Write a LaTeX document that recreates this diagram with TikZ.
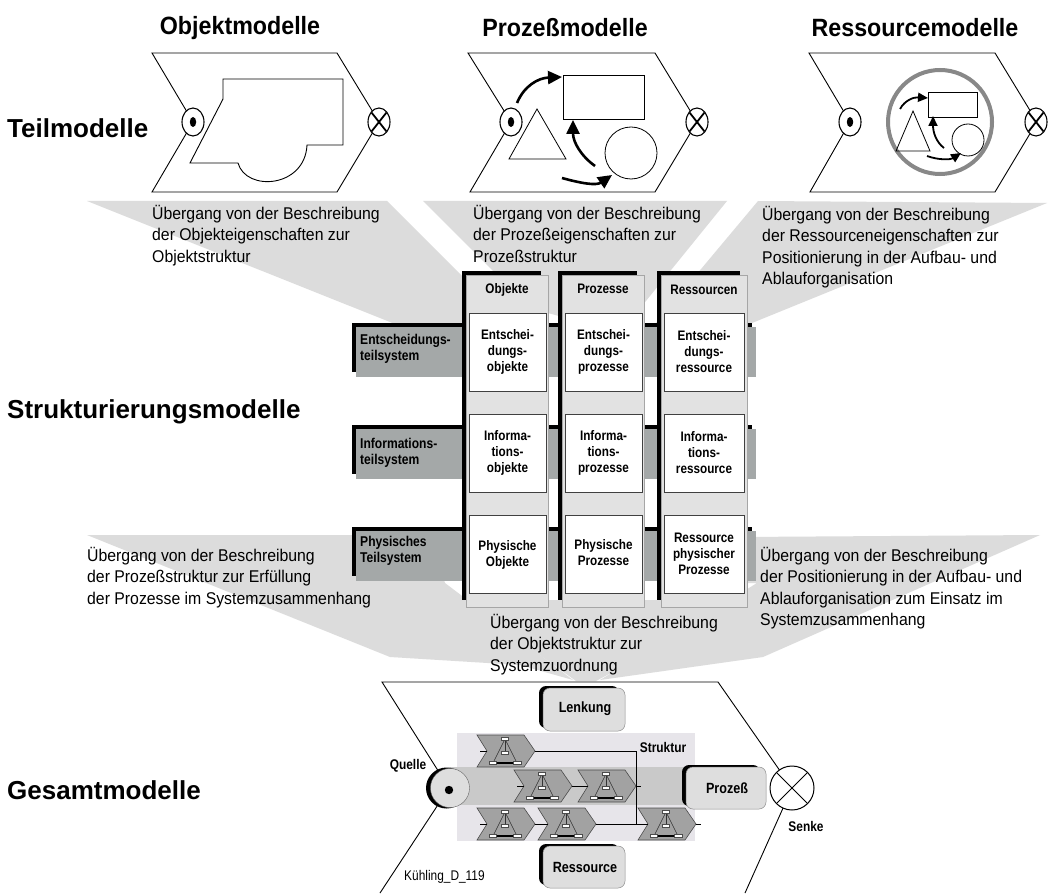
\documentclass[tikz,border=0pt]{standalone}
\usepackage{fontspec}
\setmainfont{Liberation Sans}
\newfontfamily\narrowsf[FakeStretch=0.85]{Liberation Sans}
\newfontfamily\titlesf[FakeStretch=0.93]{Liberation Sans}
\usetikzlibrary{arrows.meta,shapes.geometric}

\definecolor{funnelgray}{HTML}{DCDCDC}
\definecolor{colgray}{HTML}{E2E2E2}
\definecolor{bargray}{HTML}{A4A8A8}
\definecolor{boxgray}{HTML}{DEDEDE}
\definecolor{strukbg}{HTML}{E7E5EA}
\definecolor{bandgray}{HTML}{C9C9C9}
\definecolor{chevgray}{HTML}{A2A2A2}
\definecolor{ringgray}{HTML}{888888}

\tikzset{
  funnel/.style={fill=funnelgray, draw=none},
  outline/.style={draw=black, line width=0.9},
  title/.style={font=\titlesf\fontsize{25}{28}\selectfont\bfseries, inner sep=0},
  level/.style={font=\fontsize{26}{30}\selectfont\bfseries, anchor=west, inner sep=0},
  note/.style={font=\titlesf\fontsize{17}{21.5}\selectfont, align=left, anchor=north west, inner sep=0},
  cell/.style={draw=black!75, line width=0.6, fill=white},
  celltext/.style={font=\narrowsf\fontsize{13.8}{16}\selectfont\bfseries, align=center, inner sep=0},
  rowtext/.style={font=\narrowsf\fontsize{14.2}{16.5}\selectfont\bfseries, align=left, anchor=west, inner sep=0},
  boxtext/.style={font=\narrowsf\fontsize{14.8}{17}\selectfont\bfseries, inner sep=0},
  smalltext/.style={font=\narrowsf\fontsize{14}{16}\selectfont\bfseries, inner sep=0},
  flow/.style={line width=2.6, -{Triangle[length=14pt,width=13pt]}},
  flowsmall/.style={line width=1.8, -{Triangle[length=10pt,width=9pt]}},
  wire/.style={draw=black, line width=0.7},
  portmark/.style={draw=black, line width=1.1, fill=white, ellipse, inner sep=0,
    minimum width=22pt, minimum height=28pt},
}

% source and sink marks of a part model
\newcommand\srcmark[3]{%
  \node[portmark] (#1) at (#2,#3) {};
  \fill[black] (#2,#3) ellipse [x radius=3.2, y radius=5];}
\newcommand\sinkmark[3]{%
  \node[portmark] (#1) at (#2,#3) {};
  \draw[line width=1.8] (#2-7.5,#3-9.5) -- (#2+7.5,#3+9.5) (#2-7.5,#3+9.5) -- (#2+7.5,#3-9.5);}

% small process element of the overall model
\newcommand\procchev[3]{%
  \begin{scope}[shift={(#2,#3)}]
    \filldraw[fill=chevgray, draw=black!70, line width=0.6]
      (0,0) -- (47,0) -- (58,16) -- (47,32) -- (0,32) -- (10,16) -- cycle;
    \coordinate (#1-in) at (10,16);
    \coordinate (#1-out) at (58,16);
    \draw[line width=0.5] (3,16) -- (10,16);
    \draw[line width=0.5] (58,16) -- (63,16);
    \draw[line width=0.5, black!80] (28,4) -- (16,28) -- (40,28) -- cycle;
    \draw[line width=0.5, black!80] (28,4) -- (28,17);
    \draw[line width=1.1] (16,28) -- (40,28);
    \filldraw[fill=white, draw=black!70, line width=0.3] (24.5,2.5) rectangle (31.5,5.5);
    \filldraw[fill=white, draw=black!70, line width=0.3] (24.5,16) rectangle (31.5,19);
    \filldraw[fill=white, draw=black!70, line width=0.3] (12,26.5) rectangle (19.5,29.5);
    \filldraw[fill=white, draw=black!70, line width=0.3] (36.5,26.5) rectangle (44,29.5);
  \end{scope}}

\begin{document}
\begin{tikzpicture}[x=1pt, y=-1pt]
\useasboundingbox (0,0) rectangle (1048,893);
\fill[white] (0,0) rectangle (1048,893);

% ---------- transition funnels ----------
\fill[funnel] (87,201) -- (387,201) -- (500,314) -- (500,350) -- (440,342) -- cycle;
\fill[funnel] (423,201) -- (727,201) -- (620,333) -- (530,308) -- cycle;
\fill[funnel] (758,201) -- (1047,203) -- (752,323) -- (650,330) -- cycle;
\fill[funnel] (87,535) -- (430,535) -- (445,583) -- (573,680) -- (520,665) -- (390,657) -- cycle;
\fill[funnel] (463,600) -- (747,600) -- (596,681) -- (576,681) -- cycle;
\fill[funnel] (740,537) -- (1040,535) -- (763,657) -- (600,680) -- (757,583) -- (740,583) -- cycle;

% ---------- level labels ----------
\node[level] (lv1) at (7,128) {Teilmodelle};
\node[level] (lv2) at (7,412) {Strukturierungsmodelle};
\node[level] (lv3) at (7,790) {Gesamtmodelle};

% ---------- titles ----------
\node[title] (t1) at (240,28) {Objektmodelle};
\node[title] (t2) at (565,28) {Prozeßmodelle};
\node[title] (t3) at (915,28) {Ressourcemodelle};

% ---------- part model: objects ----------
\draw[outline] (152,53) -- (337,53) -- (379,122) -- (337,192) -- (152,192) -- (193,122) -- cycle;
\draw[outline] (223,79) -- (343,79) -- (343,145) -- (307,145)
  .. controls (305,188) and (246,192) .. (238,163) -- (190,163) -- (223,99) -- cycle;
\srcmark{os}{193}{122}
\sinkmark{ok}{379}{122}

% ---------- part model: processes ----------
\draw[outline] (468,53) -- (655,53) -- (697,122) -- (655,192) -- (470,192) -- (511,122) -- cycle;
\draw[outline, line width=0.8] (563,75) rectangle (644,119);
\draw[outline, line width=0.8] (537,109) -- (566,159) -- (509,159) -- cycle;
\draw[outline, line width=0.8] (631,153) circle (26);
\draw[flow] (517,103) .. controls (524,86) and (538,78) .. (562,77);
\draw[flow] (595,166) .. controls (581,156) and (573,142) .. (573,120);
\draw[flow] (562,178) .. controls (580,183) and (596,186) .. (612,175);
\srcmark{ps}{511}{122}
\sinkmark{pk}{697}{122}

% ---------- part model: resources ----------
\draw[outline] (809,53) -- (995,53) -- (1037,122) -- (995,192) -- (810,192) -- (850,122) -- cycle;
\draw[ringgray, line width=4] (940,122) circle (52);
\draw[outline, line width=0.8] (928,92) rectangle (977,117);
\draw[outline, line width=0.8] (913,111) -- (930,151) -- (896,151) -- cycle;
\draw[outline, line width=0.8] (968,140) circle (16);
\draw[flowsmall] (900,109) .. controls (905,100) and (914,97) .. (928,98);
\draw[flowsmall] (944,148) .. controls (936,142) and (933,132) .. (933,116);
\draw[flowsmall] (927,156) .. controls (938,160) and (950,160) .. (961,153);
\srcmark{rs}{850}{122}
\sinkmark{rk}{1036}{122}

% ---------- transition notes ----------
\node[note] (n1) at (152,205) {Übergang von der Beschreibung\\der Objekteigenschaften zur\\Objektstruktur};
\node[note] (n2) at (473,205) {Übergang von der Beschreibung\\der Prozeßeigenschaften zur\\Prozeßstruktur};
\node[note] (n3) at (762,206) {Übergang von der Beschreibung\\der Ressourceneigenschaften zur\\Positionierung in der Aufbau- und\\Ablauforganisation};
\node[note] (n4) at (87,547) {Übergang von der Beschreibung\\der Prozeßstruktur zur Erfüllung\\der Prozesse im Systemzusammenhang};
\node[note] (n5) at (490,614) {Übergang von der Beschreibung\\der Objektstruktur zur\\Systemzuordnung};
\node[note] (n6) at (760,547) {Übergang von der Beschreibung\\der Positionierung in der Aufbau- und\\Ablauforganisation zum Einsatz im\\Systemzusammenhang};

% ---------- structure model: subsystem bars ----------
\foreach \yt in {323,425,527} {
  \fill[black] (352,\yt) rectangle (752,\yt+49);
  \fill[bargray] (356,\yt+4) rectangle (756,\yt+54);
}
\node[rowtext] (r1) at (360,349) {Entscheidungs-\\teilsystem};
\node[rowtext] (r2) at (360,453) {Informations-\\teilsystem};
\node[rowtext] (r3) at (360,551) {Physisches\\Teilsystem};

% ---------- structure model: columns ----------
\foreach \xa/\xb in {466/548, 562/644, 661/747} {
  \fill[black] (\xa-4,271) rectangle (\xb-7,600);
  \filldraw[fill=colgray, draw=black!35, line width=0.6] (\xa,275) rectangle (\xb,607);
}
\node[celltext] (h1) at (507,290) {Objekte};
\node[celltext] (h2) at (603,289) {Prozesse};
\node[celltext] (h3) at (704,290) {Ressourcen};

\draw[cell] (469,313) rectangle (546,391);
\draw[cell] (565,313) rectangle (642,391);
\draw[cell] (664,313) rectangle (744,391);
\draw[cell] (469,414) rectangle (546,492);
\draw[cell] (565,414) rectangle (642,492);
\draw[cell] (664,414) rectangle (744,492);
\draw[cell] (469,515) rectangle (546,593);
\draw[cell] (565,515) rectangle (642,593);
\draw[cell] (664,515) rectangle (744,593);

\node[celltext] (c11) at (507.5,352) {Entschei-\\dungs-\\objekte};
\node[celltext] (c12) at (603.5,352) {Entschei-\\dungs-\\prozesse};
\node[celltext] (c13) at (704,352) {Entschei-\\dungs-\\ressource};
\node[celltext] (c21) at (507.5,453) {Informa-\\tions-\\objekte};
\node[celltext] (c22) at (603.5,453) {Informa-\\tions-\\prozesse};
\node[celltext] (c23) at (704,453) {Informa-\\tions-\\ressource};
\node[celltext] (c31) at (507.5,555) {Physische\\Objekte};
\node[celltext] (c32) at (603.5,553) {Physische\\Prozesse};
\node[celltext] (c33) at (704,554) {Ressource\\physischer\\Prozesse};

% ---------- overall model ----------
\draw[outline] (449,788) -- (382,682) -- (718,682) -- (792,788) -- (745,893);
\draw[outline] (449,788) -- (380,893);

\fill[strukbg] (457,733) rectangle (695,841);
\fill[bandgray] (449,767) rectangle (690,805);

\procchev{pa}{477}{735}
\procchev{pb}{514}{770}
\procchev{pc}{578}{770}
\procchev{pd}{477}{808}
\procchev{pe}{538}{808}
\procchev{pf}{638}{808}

\draw[wire] (pa-out) -- (636,751) -- (636,824);
\draw[wire] (pb-out) -- (pc-in);
\draw[wire] (pd-out) -- (pe-in);
\draw[wire] (pe-out) -- (pf-in);

\node[smalltext] (struk) at (663,747) {Struktur};

% source of the overall model
\fill[black] (446.5,788) circle (20.5);
\filldraw[fill=boxgray, draw=black!60, line width=0.4] (450,788) circle (19.5);
\fill[black] (449,790) circle (4.2);
\node[smalltext] (quelle) at (408,766) {Quelle};

% sink of the overall model
\filldraw[fill=white, draw=black, line width=1] (792,788) circle (22);
\draw[line width=1] (776.4,772.4) -- (807.6,803.6) (776.4,803.6) -- (807.6,772.4);
\node[smalltext] (senke) at (806,826) {Senke};

% control, process and resource boxes
\fill[black, rounded corners=7] (539,686) rectangle (619,728);
\filldraw[fill=boxgray, draw=black!45, line width=0.5, rounded corners=7] (543,688) rectangle (625,731);
\node[boxtext] (lenk) at (585,709) {Lenkung};

\fill[black, rounded corners=7] (682,765) rectangle (760,806);
\filldraw[fill=boxgray, draw=black!45, line width=0.5, rounded corners=7] (686,767) rectangle (766,809);
\node[boxtext] (proz) at (727,788) {Prozeß};

\fill[black, rounded corners=7] (539,844) rectangle (619,885);
\filldraw[fill=boxgray, draw=black!45, line width=0.5, rounded corners=7] (543,846) rectangle (625,888);
\node[boxtext] (ress) at (585,867) {Ressource};

\node[font=\narrowsf\fontsize{14}{16}\selectfont, anchor=west, inner sep=0] (id) at (404,877) {Kühling\_D\_119};

\end{tikzpicture}
\end{document}
